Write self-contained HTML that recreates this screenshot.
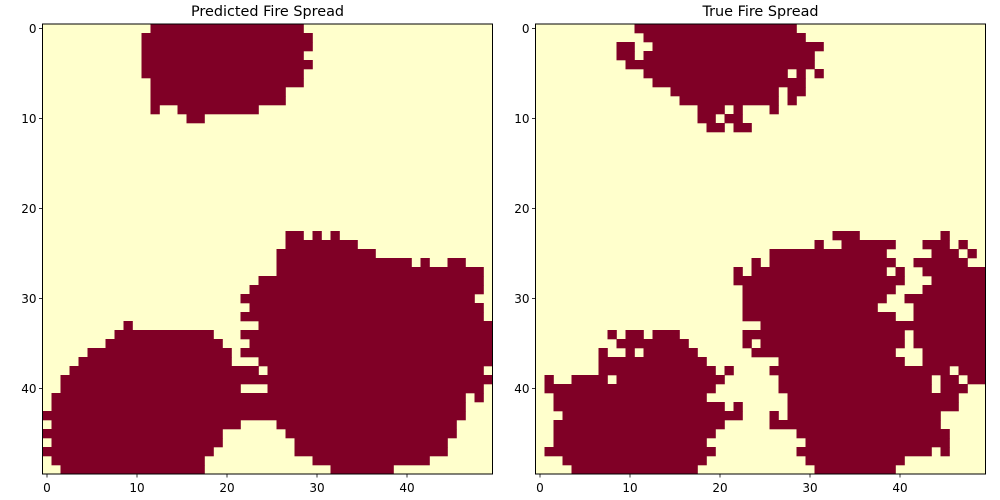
<!DOCTYPE html>
<html><head><meta charset="utf-8"><style>
html,body{margin:0;padding:0;background:#fff;}
svg{display:block;font-family:"DejaVu Sans","Liberation Sans",sans-serif;}
</style></head><body>
<svg id="fig" width="1000" height="500" viewBox="0 0 1000 500"></svg>
<script>
const gridSize = 50;
const tickLabels = [0, 10, 20, 30, 40];
const titles = ["Predicted Fire Spread", "True Fire Spread"];
const predRuns = [
[[12,28]],[[11,29]],[[11,29]],[[11,28]],[[11,29]],[[11,28]],[[12,28]],[[12,26]],[[12,26]],[[12,12],[15,23]],
[[16,17]],[],[],[],[],[],[],[],[],[],
[],[],[],[[27,28],[30,30],[32,32]],[[27,34]],[[26,36]],[[26,40],[42,42],[45,46]],[[26,48]],[[24,48]],[[23,48]],
[[22,47]],[[23,48]],[[22,48]],[[9,9],[24,49]],[[8,18],[22,49]],[[7,19],[23,49]],[[5,20],[22,49]],[[4,20],[24,49]],[[3,23],[25,48]],[[2,49]],
[[2,21],[25,48]],[[1,46],[48,48]],[[1,46]],[[0,46]],[[1,21],[26,45]],[[0,19],[27,45]],[[1,19],[28,44]],[[0,18],[28,44]],[[1,17],[30,42]],[[2,17],[32,38]]
];
const trueRuns = [
[[11,28]],[[12,29]],[[9,10],[13,31]],[[9,10],[12,30]],[[10,30]],[[12,27],[29,29],[31,31]],[[13,29]],[[15,26],[28,29]],[[16,26],[28,28]],[[18,20],[22,22],[26,26]],
[[18,19],[21,22]],[[19,20],[22,23]],[],[],[],[],[],[],[],[],
[],[],[],[[33,35],[45,45]],[[31,31],[34,39],[43,45],[47,47]],[[26,38],[44,46],[48,48]],[[24,24],[26,39],[42,47]],[[22,22],[24,38],[40,40],[43,49]],[[22,40],[44,49]],[[23,39],[43,49]],
[[23,38],[41,49]],[[23,37],[42,49]],[[23,39],[42,49]],[[25,49]],[[8,8],[10,11],[13,15],[23,40],[42,49]],[[9,16],[23,23],[25,40],[42,49]],[[7,7],[10,10],[12,17],[24,39],[43,49]],[[7,18],[27,40],[43,49]],[[7,19],[21,21],[26,45],[47,49]],[[1,1],[4,7],[9,20],[27,43],[45,46],[48,49]],
[[1,19],[27,43],[45,47]],[[2,18],[28,46]],[[2,20],[22,22],[28,46]],[[3,22],[26,26],[28,44]],[[2,20],[26,44]],[[2,19],[29,45]],[[2,18],[30,45]],[[1,19],[29,43],[45,45]],[[3,18],[30,40]],[[4,17],[31,39]]
];

const NS = "http://www.w3.org/2000/svg";
const svg = document.getElementById('fig');
function mk(tag, attrs, parent){
  const e = document.createElementNS(NS, tag);
  for (const k in attrs) e.setAttribute(k, attrs[k]);
  (parent||svg).appendChild(e);
  return e;
}
const panels = [
  {left:42.5, top:24, w:450, h:450, runs:predRuns, title:titles[0], name:'predicted'},
  {left:535.5, top:24, w:450, h:450, runs:trueRuns, title:titles[1], name:'true'}
];
panels.forEach(p => {
  const cw = p.w / gridSize, ch = p.h / gridSize;
  const xs = c => p.left + c * cw;
  const ys = r => p.top + r * ch;
  const g = mk('g', {});
  
  
  const bg = mk('rect', {x:p.left, y:p.top, width:p.w, height:p.h, fill:'#ffffcc'}, g);
  
  
  p.runs.forEach((row, r) => {
    row.forEach(run => {
      const rc = mk('rect', {x:xs(run[0]), y:ys(r), width:(run[1]-run[0]+1)*cw + 0.3, height:ch + 0.3, fill:'#800026'}, g);
      
      
    });
  });
  const frame = mk('rect', {x:p.left, y:p.top, width:p.w, height:p.h, fill:'none', stroke:'#000', 'stroke-width':1}, g);
  
  
  tickLabels.forEach(t => {
    const cx = xs(t + 0.5);
    mk('line', {x1:cx, x2:cx, y1:p.top+p.h, y2:p.top+p.h+3.5, stroke:'#000', 'stroke-width':0.8}, g);
    const tx = mk('text', {x:cx, y:p.top+p.h+18, 'font-size':12, 'text-anchor':'middle', fill:'#000'}, g);
    tx.textContent = t;
    
    
    const cy = ys(t + 0.5);
    mk('line', {x1:p.left-3.5, x2:p.left, y1:cy, y2:cy, stroke:'#000', 'stroke-width':0.8}, g);
    const ty = mk('text', {x:p.left-6, y:cy+4.3, 'font-size':12, 'text-anchor':'end', fill:'#000'}, g);
    ty.textContent = t;
    
    
  });
  const tt = mk('text', {x:p.left+p.w/2, y:p.top-8, 'font-size':14.4, 'text-anchor':'middle', fill:'#000'}, g);
  tt.textContent = p.title;
  
  
});
</script>
</body></html>
